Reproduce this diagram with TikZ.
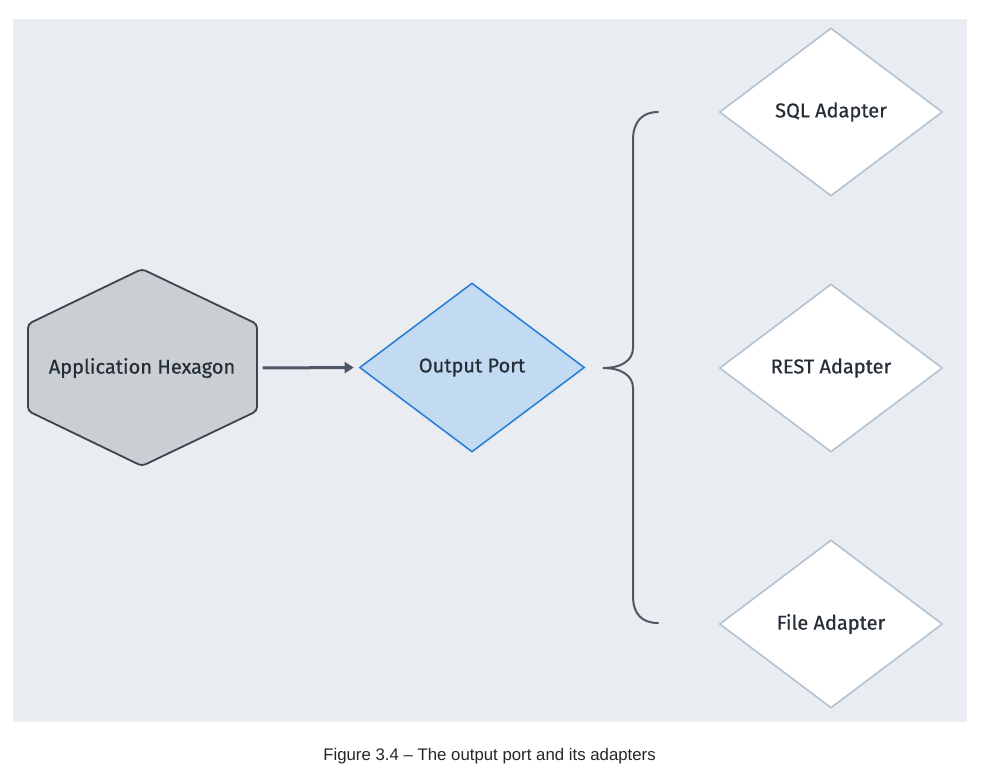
\documentclass[tikz,border=0pt]{standalone}
\usepackage{fontspec}
\setmainfont{Liberation Sans}
\newfontfamily\diagfont[FakeBold=0.6]{Fira Sans}
\usetikzlibrary{shapes.geometric,arrows.meta}
\definecolor{bgpanel}{HTML}{E9EDF1}
\definecolor{hexfill}{HTML}{CACFD4}
\definecolor{hexline}{HTML}{3A4550}
\definecolor{arrowcol}{HTML}{4D5864}
\definecolor{portfill}{HTML}{C3DBF2}
\definecolor{portline}{HTML}{2F7FD8}
\definecolor{adline}{HTML}{B0C3D4}
\definecolor{txtcol}{HTML}{262E36}
\tikzset{
  lbl/.style={font=\diagfont\fontsize{20}{22}\selectfont, text=txtcol},
  portbox/.style={diamond, draw=portline, fill=portfill, line width=1.6pt, inner sep=0pt,
    minimum width=225pt, minimum height=169pt, lbl},
  adapterbox/.style={diamond, draw=adline, fill=white, line width=1.6pt, inner sep=0pt,
    minimum width=223pt, minimum height=168pt, lbl},
  bracecol/.style={draw=arrowcol, line width=2pt, line cap=round}
}
\begin{document}
\begin{tikzpicture}[x=1pt,y=-1pt]
\useasboundingbox (0,0) rectangle (981,774);
\fill[bgpanel] (13,19) rectangle (967,722);
% hexagon
\draw[hexline, fill=hexfill, line width=1.8pt, rounded corners=4pt]
  (142,269) -- (257,324) -- (257,411) -- (142,466) -- (28,411) -- (28,324) -- cycle;
\node[lbl, minimum width=229pt, minimum height=197pt] (hex) at (142,368) {Application Hexagon};
\node[portbox] (port) at (472,367.5) {Output Port};
\node[adapterbox] (sql) at (831,112) {SQL Adapter};
\node[adapterbox] (rest) at (831,368) {REST Adapter};
\node[adapterbox] (file) at (831,624) {File Adapter};
\draw[arrowcol, line width=3pt, -{Triangle[length=9pt,width=11pt]}, shorten <=6pt, shorten >=5pt]
  (hex.east) -- (port.west);
% brace
\coordinate (btop) at (658,112);
\coordinate (bbot) at (658,623);
\coordinate (btip) at (603,368);
\draw[bracecol] (btop) .. controls (642,112) and (633,122) .. (633,140)
  -- (633,348) .. controls (633,360) and (622,368) .. (btip)
  .. controls (622,368) and (633,376) .. (633,388)
  -- (633,596) .. controls (633,614) and (642,623) .. (bbot);
\node[font=\fontsize{16.8}{20}\selectfont, text=black!85] (cap) at (489.5,756) {Figure 3.4 – The output port and its adapters};
\end{tikzpicture}
\end{document}
